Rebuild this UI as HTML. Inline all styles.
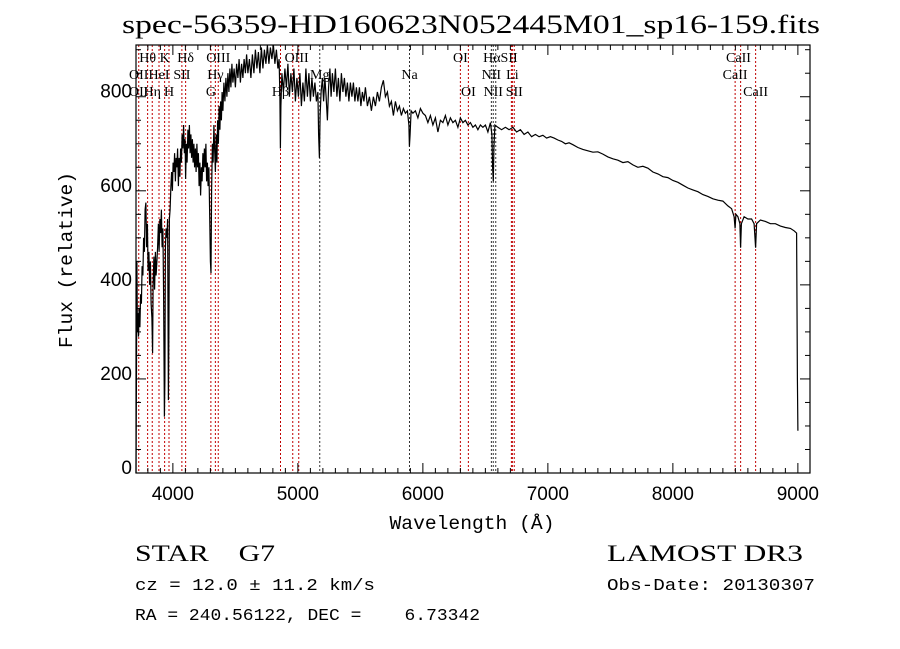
<!DOCTYPE html>
<html><head><meta charset="utf-8"><style>
body{margin:0;background:#fff;}
svg{display:block;}
text{fill:#000;}
.pre{white-space:pre;}
</style></head><body>
<svg id="chart" width="900" height="649" viewBox="0 0 900 649" xmlns="http://www.w3.org/2000/svg">
<rect width="900" height="649" fill="#fff"/>
<text x="122" y="33" font-family="Liberation Serif, serif" font-size="26" textLength="698" lengthAdjust="spacingAndGlyphs">spec-56359-HD160623N052445M01_sp16-159.fits</text>
<g id="lines"></g>
<g id="linelabels"></g>
<g id="spec"></g>
<g id="axes"></g>
<text x="472" y="529" text-anchor="middle" font-family="Liberation Mono, monospace" font-size="19" textLength="165" lengthAdjust="spacingAndGlyphs">Wavelength (Å)</text>
<text transform="translate(72,260) rotate(-90)" text-anchor="middle" font-family="Liberation Mono, monospace" font-size="19" textLength="176" lengthAdjust="spacingAndGlyphs">Flux (relative)</text>
<text class="pre" xml:space="preserve" x="135" y="561" font-family="Liberation Serif, serif" font-size="23" textLength="140" lengthAdjust="spacingAndGlyphs">STAR    G7</text>
<text class="pre" xml:space="preserve" x="135" y="590" font-family="Liberation Mono, monospace" font-size="17" textLength="240" lengthAdjust="spacingAndGlyphs">cz = 12.0 ± 11.2 km/s</text>
<text class="pre" xml:space="preserve" x="135" y="620" font-family="Liberation Mono, monospace" font-size="17" textLength="345" lengthAdjust="spacingAndGlyphs">RA = 240.56122, DEC =    6.73342</text>
<text x="607" y="561" font-family="Liberation Serif, serif" font-size="23" textLength="196" lengthAdjust="spacingAndGlyphs">LAMOST DR3</text>
<text x="607" y="590" font-family="Liberation Mono, monospace" font-size="17" textLength="208" lengthAdjust="spacingAndGlyphs">Obs-Date: 20130307</text>
</svg>
<script>
const waves = [3705,3708,3712,3716,3720,3725,3730,3736,3742,3748,3754,3760,3766,3772,3778,3784,3790,3796,3802,3808,3814,3820,3826,3832,3838,3842,3848,3854,3860,3866,3872,3878,3884,3890,3896,3902,3908,3914,3920,3926,3932,3936,3940,3946,3952,3958,3964,3968,3972,3978,3984,3990,3996,4002,4008,4014,4020,4026,4032,4038,4044,4050,4056,4062,4068,4074,4080,4086,4092,4098,4102,4108,4114,4120,4126,4132,4138,4144,4150,4156,4162,4168,4174,4180,4186,4192,4198,4204,4210,4216,4222,4228,4234,4240,4246,4252,4258,4264,4270,4276,4282,4288,4294,4300,4305,4310,4316,4322,4328,4334,4340,4346,4352,4358,4364,4370,4376,4382,4388,4394,4400,4408,4416,4424,4432,4440,4448,4456,4464,4472,4480,4490,4500,4510,4520,4530,4540,4550,4560,4570,4580,4590,4600,4612,4624,4636,4648,4660,4672,4684,4696,4708,4720,4732,4744,4756,4768,4780,4792,4804,4816,4828,4840,4850,4856,4860,4864,4872,4884,4896,4908,4920,4932,4944,4956,4968,4980,4992,5004,5016,5028,5040,5052,5064,5076,5088,5100,5112,5124,5136,5148,5160,5166,5172,5178,5186,5196,5206,5216,5226,5236,5246,5256,5266,5276,5288,5300,5312,5324,5336,5348,5360,5372,5384,5396,5408,5420,5432,5444,5456,5468,5480,5492,5504,5516,5528,5540,5556,5572,5588,5604,5620,5636,5652,5668,5684,5700,5716,5732,5748,5764,5780,5796,5812,5828,5844,5860,5876,5888,5892,5898,5906,5920,5940,5960,5980,6000,6020,6040,6060,6080,6100,6120,6140,6160,6180,6200,6220,6240,6260,6280,6300,6320,6340,6360,6380,6400,6420,6440,6460,6480,6500,6520,6540,6552,6558,6563,6568,6576,6600,6630,6660,6690,6720,6750,6780,6810,6840,6870,6900,6930,6960,6990,7020,7050,7080,7110,7140,7170,7200,7240,7280,7320,7360,7400,7440,7480,7520,7560,7600,7640,7680,7720,7760,7800,7840,7880,7920,7960,8000,8040,8080,8120,8160,8200,8240,8280,8320,8360,8400,8440,8470,8490,8498,8504,8520,8536,8542,8548,8570,8600,8630,8650,8662,8670,8700,8740,8780,8820,8860,8900,8940,8970,8990,8996,9000];
const fluxes = [0,180,450,300,340,290,350,310,380,360,440,420,500,470,560,575,480,530,430,470,400,450,360,330,255,400,460,390,470,420,450,480,530,470,540,510,560,480,520,380,120,200,480,520,500,540,155,300,540,560,610,640,600,660,640,680,620,670,650,690,610,670,630,690,660,720,690,740,680,710,625,700,660,730,690,740,680,720,670,710,660,700,650,690,640,700,650,680,610,660,590,650,620,680,640,690,650,700,620,660,610,650,560,450,425,600,700,660,740,690,640,720,660,750,700,780,730,790,750,810,770,830,790,840,800,850,810,860,820,870,830,860,820,870,840,880,830,870,840,880,850,890,850,880,840,890,850,900,860,895,850,905,860,900,870,910,870,905,880,910,870,900,860,880,800,690,780,850,810,860,820,870,800,850,810,860,790,840,800,850,780,830,790,860,800,850,790,840,800,830,790,810,720,670,760,810,840,790,840,800,750,820,860,800,850,810,860,800,840,790,850,810,840,800,830,790,830,800,830,790,820,790,820,780,810,790,820,780,800,770,800,780,810,790,820,835,800,810,780,790,760,790,770,780,760,775,765,770,740,694,720,770,765,770,755,775,765,760,745,760,740,755,725,750,745,760,740,755,745,750,735,755,745,750,740,745,735,740,730,740,735,740,725,745,720,650,620,690,740,735,730,735,730,735,725,730,720,725,715,720,715,718,712,715,712,708,705,700,702,698,692,688,685,682,683,678,672,668,665,660,662,655,650,652,648,640,636,630,628,622,618,612,606,602,598,592,588,583,580,578,568,562,545,520,550,545,530,479,530,545,540,540,530,479,530,538,535,530,530,525,522,520,515,510,200,90];
const xTicks = [4000,5000,6000,7000,8000,9000];
const yTicks = [0,200,400,600,800];
const lineWaves = [3727,3798,3835,3889,3934,3969,4072,4102,4304,4340,4363,4861,4959,5007,5175,5893,6300,6364,6548,6563,6583,6708,6716,6731,8498,8542,8662];
const lineColors = ['r','r','r','r','r','r','r','r','r','r','r','r','r','r','k','k','r','r','k','k','k','r','r','r','r','r','r'];
const labelTexts = ['Hθ','K','Hδ','OIII','OIII','OI','HαSII','CaII','OII','HeI','SII','Hγ','Mg','Na','NII','Li','CaII','OII','Hη','H','G','Hβ','OI','NII','SII','CaII'];
const labelWaves = [3798,3934,4102,4363,4990,6300,6620,8525,3727,3889,4072,4340,5175,5893,6548,6716,8498,3727,3835,3969,4304,4861,6364,6563,6731,8662];
const labelRows = [0,0,0,0,0,0,0,0,1,1,1,1,1,1,1,1,1,2,2,2,2,2,2,2,2,2];

const X0=136,X1=810,Y0=473,Y1=45;
const XMIN=3705,XMAX=9097,YMIN=0,YMAX=910;
function xs(w){return X0+(w-XMIN)/(XMAX-XMIN)*(X1-X0);}
function ys(f){return Y0-(f-YMIN)/(YMAX-YMIN)*(Y0-Y1);}
const NS='http://www.w3.org/2000/svg';
function mk(tag,attrs,parent){const e=document.createElementNS(NS,tag);for(const k in attrs)e.setAttribute(k,attrs[k]);parent.appendChild(e);return e;}

const gl=document.getElementById('lines');
lineWaves.forEach((w,i)=>{
  const l=mk('line',{x1:xs(w),x2:xs(w),y1:Y1,y2:Y0,stroke:lineColors[i]==='r'?'#c00000':'#333','stroke-width':1,'stroke-dasharray':'2,2'},gl);
  
  
});
const glab=document.getElementById('linelabels');
labelTexts.forEach((t,i)=>{
  const tx=mk('text',{x:xs(labelWaves[i]),y:62+labelRows[i]*17,'text-anchor':'middle','font-family':'Liberation Serif, serif','font-size':14},glab);
  tx.textContent=t;
  
  
});

const gs=document.getElementById('spec');
let pts=[];
for(let i=0;i<waves.length;i++){
  const y=Math.max(Y1,Math.min(Y0,ys(fluxes[i])));
  pts.push(xs(waves[i]).toFixed(1)+','+y.toFixed(1));
}
const pl=mk('polyline',{points:pts.join(' '),fill:'none',stroke:'#000','stroke-width':1.2,'stroke-linejoin':'miter'},gs);



const ga=document.getElementById('axes');
const fr=mk('rect',{x:X0,y:Y1,width:X1-X0,height:Y0-Y1,fill:'none',stroke:'#000','stroke-width':1.2},ga);


for(let w=3800;w<=XMAX;w+=100){
  const major=(w%1000===0);const len=major?10:5;
  mk('line',{x1:xs(w),x2:xs(w),y1:Y0,y2:Y0-len,stroke:'#000','stroke-width':1},ga);
  mk('line',{x1:xs(w),x2:xs(w),y1:Y1,y2:Y1+len,stroke:'#000','stroke-width':1},ga);
}
for(let f=0;f<=YMAX;f+=50){
  const major=(f%200===0);const len=major?10:5;
  mk('line',{x1:X0,x2:X0+len,y1:ys(f),y2:ys(f),stroke:'#000','stroke-width':1},ga);
  mk('line',{x1:X1,x2:X1-len,y1:ys(f),y2:ys(f),stroke:'#000','stroke-width':1},ga);
}
xTicks.forEach(w=>{
  const t=mk('text',{x:xs(w),y:Y0+27,'text-anchor':'middle','font-family':'Liberation Sans, sans-serif','font-size':19},ga);
  t.textContent=String(w);
  
  
});
yTicks.forEach(f=>{
  const t=mk('text',{x:X0-4,y:ys(f)+1,'text-anchor':'end','font-family':'Liberation Sans, sans-serif','font-size':19},ga);
  t.textContent=String(f);
  
  
});
</script>
</body></html>
